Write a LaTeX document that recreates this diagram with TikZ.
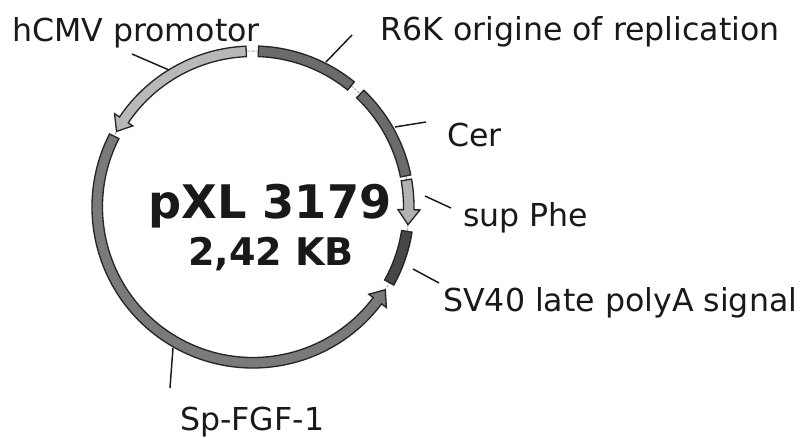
\documentclass[tikz,border=0pt]{standalone}
\usepackage{fontspec}
\setmainfont{DejaVu Sans}
\newcommand{\Rin}{150.5}\newcommand{\Rout}{161}\newcommand{\Rmid}{156}
\newcommand{\Rhi}{145}\newcommand{\Rho}{167}
\newcommand{\bandseg}[3]{% start, end, fill
  \draw[segline,fill=#3] (#1:\Rin) arc[start angle=#1,end angle=#2,radius=\Rin]
    -- (#2:\Rout) arc[start angle=#2,end angle=#1,radius=\Rout] -- cycle;}
\newcommand{\bandarrow}[4]{% tail, neck, tip, fill
  \draw[segline,fill=#4] (#1:\Rin) arc[start angle=#1,end angle=#2,radius=\Rin]
    -- (#2:\Rhi) -- (#3:\Rmid) -- (#2:\Rho) -- (#2:\Rout)
    arc[start angle=#2,end angle=#1,radius=\Rout] -- cycle;}
\tikzset{
  segline/.style={draw=black!85,line width=1pt,line join=miter},
  backbone/.style={draw=black!55,line width=0.4pt,dashed,dash pattern=on 2pt off 1pt},
  leader/.style={draw=black!90,line width=1.1pt},
  lab/.style={anchor=base west,inner sep=0pt,font=\fontsize{23.7}{25}\selectfont,text=black!90},
  title/.style={anchor=base,inner sep=0pt,text=black!90,font=\bfseries\fontsize{34.7}{36}\selectfont},
  subtitle/.style={anchor=base,inner sep=0pt,text=black!90,font=\bfseries\fontsize{28.6}{30}\selectfont},
}
\begin{document}
\begin{tikzpicture}[x=0.75pt,y=0.75pt]
\useasboundingbox (-253,-230) rectangle (547,207);
\draw[backbone] (0,0) circle[radius=156];
% segments
\bandarrow{92.5}{146}{151}{black!28}
\bandseg{88}{51}{black!58}
\bandseg{46.5}{11.5}{black!58}
\bandarrow{10}{-1}{-6.5}{black!30}
\bandseg{-9}{-29}{black!72}
\bandarrow{153}{323}{328}{black!52}
% leader ends
\coordinate (hA) at (-121,153); \coordinate (hB) at (-84,137);
\coordinate (rA) at (99,172);   \coordinate (rB) at (73,145);
\coordinate (cA) at (173,85);   \coordinate (cB) at (142,80);
\coordinate (pA) at (172,11);   \coordinate (pB) at (198,-1);
\coordinate (sA) at (160,-62);  \coordinate (sB) at (186,-76);
\coordinate (fA) at (-80,-141); \coordinate (fB) at (-83,-181);
\draw[leader] (hA) -- (hB);
\draw[leader] (rA) -- (rB);
\draw[leader] (cA) -- (cB);
\draw[leader] (pA) -- (pB);
\draw[leader] (sA) -- (sB);
\draw[leader] (fA) -- (fB);
% labels
\node[lab] (hcmv) at (-241,166) {hCMV promotor};
\node[lab] (r6k) at (127,167) {R6K origine of replication};
\node[lab] (cer) at (194,61) {Cer};
\node[lab] (sup) at (210,-19) {sup Phe};
\node[lab] (sv40) at (190,-104) {SV40 late polyA signal};
\node[lab] (fgf) at (-73,-223) {Sp-FGF-1};
\node[title] (name) at (17,-11) {pXL 3179};
\node[subtitle] (size) at (18,-58) {2,42 KB};
\end{tikzpicture}
\end{document}
